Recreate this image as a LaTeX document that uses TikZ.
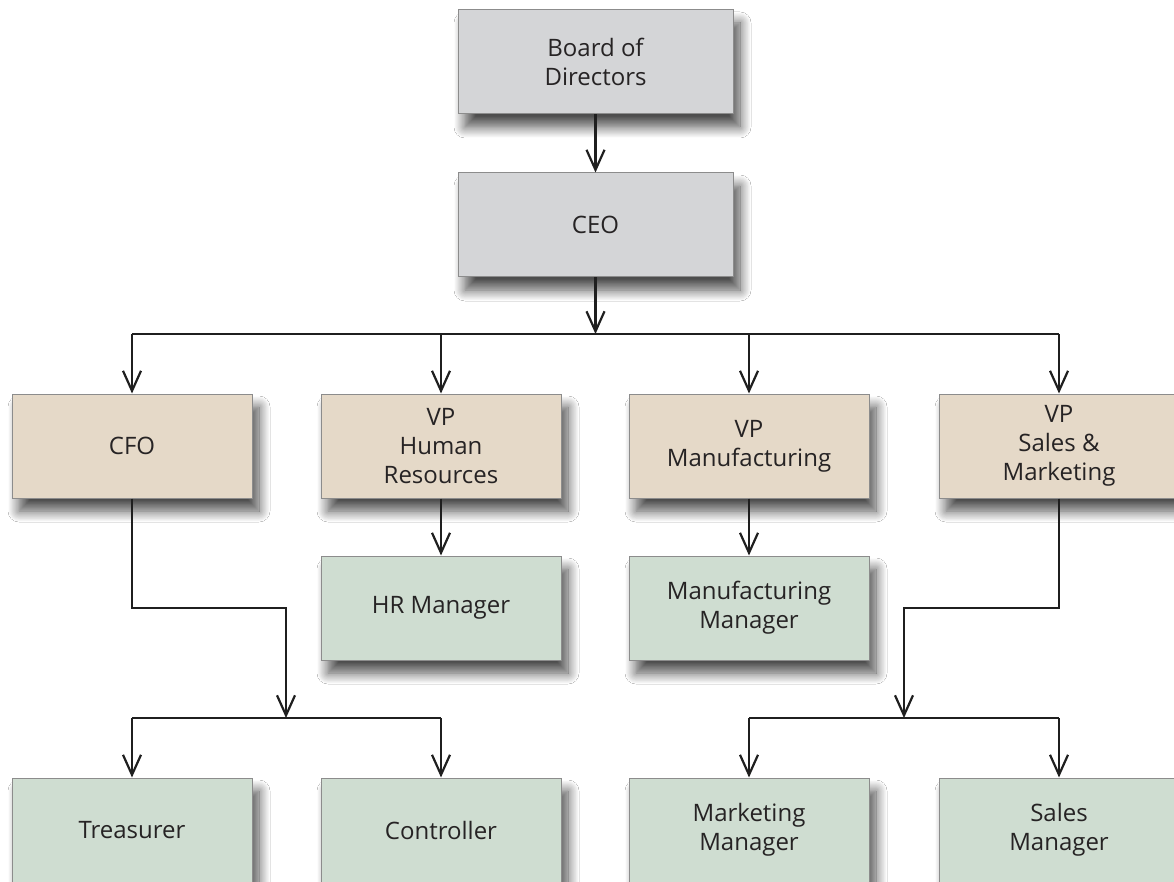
\documentclass[tikz,border=0pt]{standalone}
\usepackage{fontspec}
\setmainfont{Open Sans}
\usetikzlibrary{arrows.meta,shadows.blur}
\definecolor{gfill}{HTML}{D4D5D7}
\definecolor{tfill}{HTML}{E5D9C8}
\definecolor{vfill}{HTML}{CFDDD1}
\definecolor{bordc}{HTML}{8C8C8C}
\definecolor{txtc}{HTML}{262324}
\begin{document}
\begin{tikzpicture}[x=1pt,y=-1pt,
  box/.style={draw=bordc, line width=1pt, minimum width=240pt, minimum height=104pt,
    align=center, inner sep=0pt, text=txtc,
    font=\fontsize{24}{29}\selectfont,
    blur shadow={shadow xshift=7pt, shadow yshift=-13pt, shadow blur radius=11pt, shadow opacity=70, shadow blur steps=14}},
  gbox/.style={box, fill=gfill, minimum width=275pt},
  tbox/.style={box, fill=tfill},
  vbox/.style={box, fill=vfill},
  conn/.style={line width=2.2pt, draw=black!88, line join=miter},
  arr/.style={conn, -{Straight Barb[length=20pt,width=18pt,line width=2.2pt]}}]
\useasboundingbox (0,0) rectangle (1174,882);
\fill[white] (0,0) rectangle (1174,882);
% nodes
\node[gbox] (bod) at (595.5,62) {Board of\\Directors};
\node[gbox] (ceo) at (595.5,225) {CEO};
\node[tbox] (cfo) at (132,446) {CFO};
\node[tbox] (vphr) at (441,446) {VP\\Human\\Resources};
\node[tbox] (vpm) at (749,446) {VP\\Manufacturing};
\node[tbox] (vps) at (1059,446) {VP\\Sales \&\\Marketing};
\node[vbox] (hrm) at (441,608) {HR Manager};
\node[vbox] (mfm) at (749,608) {Manufacturing\\Manager};
\node[vbox] (tre) at (132,830) {Treasurer};
\node[vbox] (con) at (441,830) {Controller};
\node[vbox] (mkm) at (749,830) {Marketing\\Manager};
\node[vbox] (slm) at (1059,830) {Sales\\Manager};
% coordinates
\coordinate (bar) at (595.5,334);
\coordinate (fk) at (286,608);
\coordinate (fin) at (286,718);
\coordinate (sk) at (904,608);
\coordinate (sin) at (904,718);
% connectors
\draw[arr] (bod) -- (ceo);
\draw[arr] (ceo) -- (bar);
\draw[conn] (cfo.north |- bar) -- (vps.north |- bar);
\draw[arr] (cfo.north |- bar) -- (cfo.north);
\draw[arr] (vphr.north |- bar) -- (vphr.north);
\draw[arr] (vpm.north |- bar) -- (vpm.north);
\draw[arr] (vps.north |- bar) -- (vps.north);
\draw[arr] (vphr) -- (hrm);
\draw[arr] (vpm) -- (mfm);
\draw[arr] (cfo.south) |- (fk) -- (fin);
\draw[conn] (tre.north |- fin) -- (con.north |- fin);
\draw[arr] (tre.north |- fin) -- (tre.north);
\draw[arr] (con.north |- fin) -- (con.north);
\draw[arr] (vps.south) |- (sk) -- (sin);
\draw[conn] (mkm.north |- sin) -- (slm.north |- sin);
\draw[arr] (mkm.north |- sin) -- (mkm.north);
\draw[arr] (slm.north |- sin) -- (slm.north);
\end{tikzpicture}
\end{document}
